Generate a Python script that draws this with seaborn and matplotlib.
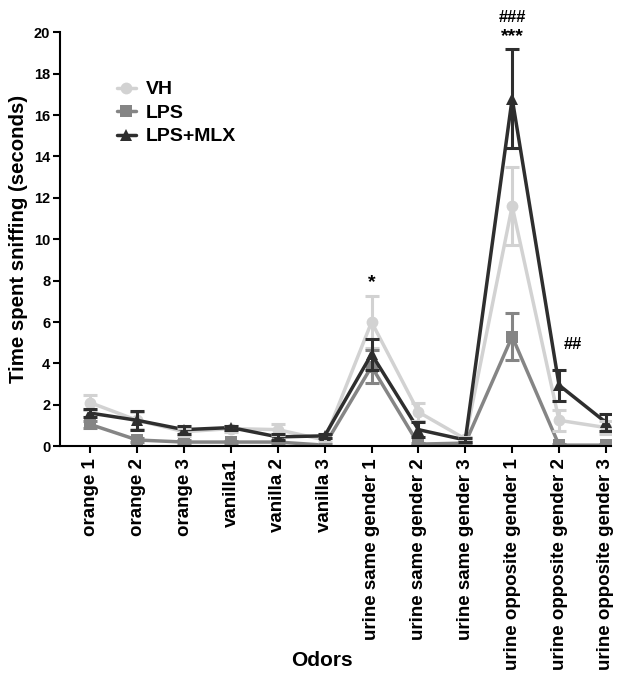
import numpy as np
import pandas as pd
import matplotlib
matplotlib.use("Agg")
import matplotlib.pyplot as plt
import seaborn as sns

odors = ["orange 1", "orange 2", "orange 3", "vanilla1", "vanilla 2", "vanilla 3",
         "urine same gender 1", "urine same gender 2", "urine same gender 3",
         "urine opposite gender 1", "urine opposite gender 2", "urine opposite gender 3"]
groups = ["VH", "LPS", "LPS+MLX"]

vh_mean = [2.1, 1.25, 0.7, 0.85, 0.8, 0.3, 6.0, 1.65, 0.35, 11.6, 1.25, 0.9]
vh_sem = [0.35, 0.4, 0.2, 0.15, 0.25, 0.1, 1.25, 0.45, 0.1, 1.9, 0.5, 0.3]
lps_mean = [1.05, 0.3, 0.2, 0.2, 0.2, 0.05, 3.85, 0.1, 0.15, 5.3, 0.05, 0.05]
lps_sem = [0.15, 0.1, 0.08, 0.05, 0.05, 0.05, 0.8, 0.05, 0.05, 1.15, 0.05, 0.05]
mlx_mean = [1.6, 1.25, 0.8, 0.9, 0.45, 0.5, 4.45, 0.8, 0.3, 16.8, 2.95, 1.15]
mlx_sem = [0.2, 0.45, 0.2, 0.1, 0.15, 0.1, 0.75, 0.35, 0.1, 2.4, 0.75, 0.4]

sig_labels = ["*", "***", "###", "##"]
sig_x = [6, 9, 9, 10.3]
sig_y = [7.9, 19.8, 20.7, 4.9]

colors = {"VH": "#d2d2d2", "LPS": "#858585", "LPS+MLX": "#2e2e2e"}
markers = {"VH": "o", "LPS": "s", "LPS+MLX": "^"}

df = pd.DataFrame({
    "x": list(range(len(odors))) * 3,
    "mean": vh_mean + lps_mean + mlx_mean,
    "sem": vh_sem + lps_sem + mlx_sem,
    "group": [g for g in groups for _ in odors],
})

sns.set_style("ticks")
plt.rcParams["font.family"] = ["Liberation Sans", "DejaVu Sans"]
plt.rcParams["font.weight"] = "bold"
plt.rcParams["text.color"] = "black"
plt.rcParams["axes.labelcolor"] = "black"
plt.rcParams["xtick.color"] = "black"
plt.rcParams["ytick.color"] = "black"
plt.rcParams["axes.edgecolor"] = "black"

fig = plt.figure(figsize=(6.18, 6.73), dpi=100)
ax = fig.add_axes([0.097, 0.337, 0.891, 0.615])

sns.lineplot(data=df, x="x", y="mean", hue="group", style="group",
             palette=colors, markers=markers, dashes=False, linewidth=2.5,
             markersize=8.5, markeredgewidth=0, ax=ax, legend=True)

for g in groups:
    sub = df[df["group"] == g]
    ax.errorbar(sub["x"], sub["mean"], yerr=sub["sem"], fmt="none",
                ecolor=colors[g], elinewidth=2.2, capsize=5, capthick=2.2)

for lab, x, y in zip(sig_labels, sig_x, sig_y):
    ax.text(x, y, lab, ha="center", va="center",
            fontsize=14 if "*" in lab else 12, fontweight="bold", clip_on=False)

ax.set_xlim(-0.65, 11.1)
ax.set_ylim(0, 20)
ax.set_yticks(np.arange(0, 21, 2))
ax.set_xticks(range(len(odors)))
ax.set_xticklabels(odors, rotation=90, fontsize=13.5, fontweight="bold")
ax.tick_params(axis="y", labelsize=10.5, width=1.5, length=5, pad=2)
ax.tick_params(axis="x", width=1.5, length=5)
for lab in ax.get_yticklabels():
    lab.set_fontweight("bold")
ax.set_ylabel("Time spent sniffing (seconds)", fontsize=14.7, fontweight="bold")
ax.set_xlabel("Odors", fontsize=15, fontweight="bold")
ax.xaxis.set_label_coords(0.476, -0.517)
ax.xaxis.label.set_va("center")
for s in ["left", "bottom"]:
    ax.spines[s].set_linewidth(1.5)
sns.despine(ax=ax)

leg = ax.legend(loc="upper left", bbox_to_anchor=(0.071, 0.925), frameon=False,
                prop={"weight": "bold", "size": 14}, handlelength=1.0,
                labelspacing=0.3, handletextpad=0.5)

fig.savefig("out.png", dpi=100)
